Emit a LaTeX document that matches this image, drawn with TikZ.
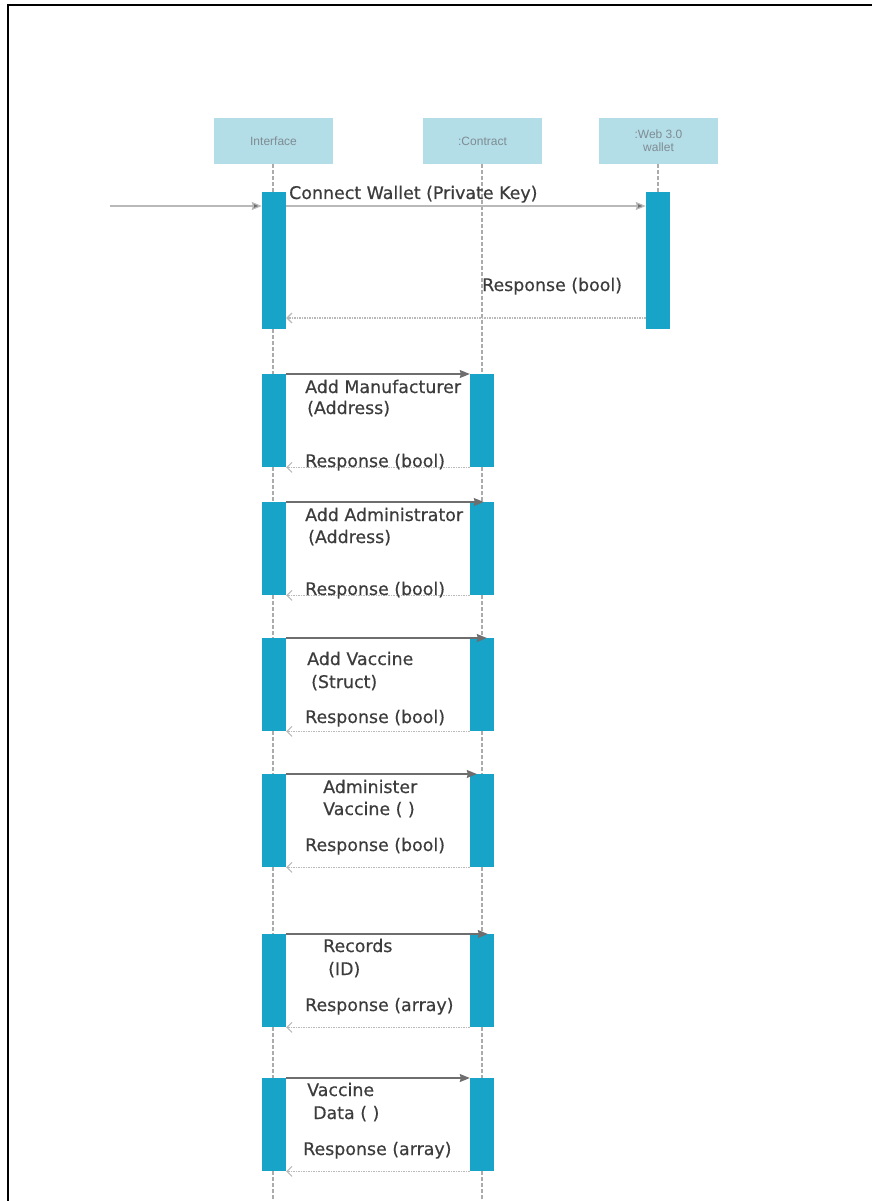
\documentclass[tikz,border=0pt]{standalone}
\usepackage{fontspec}
\setmainfont{DejaVu Sans}
\newfontfamily\lblfont{DejaVu Sans}[FakeBold=0.5]
\newfontfamily\hdrfont{Liberation Sans}
\usetikzlibrary{arrows.meta,calc}
\definecolor{hdrfill}{HTML}{B3DDE7}
\definecolor{barfill}{HTML}{17A4C8}
\definecolor{txt}{HTML}{3C3C3C}
\definecolor{lifegray}{HTML}{ABABAB}
\definecolor{hdrtxt}{HTML}{7F8C92}
\definecolor{callgray}{HTML}{6E6E6E}
\begin{document}
\begin{tikzpicture}[x=1pt,y=-1pt,
  hdr/.style={fill=hdrfill, minimum width=119pt, minimum height=46pt, inner sep=0pt,
    font=\hdrfont\fontsize{12}{13}\selectfont, text=hdrtxt, align=center},
  actbar/.style={fill=barfill, minimum width=24pt, inner sep=0pt, anchor=north},
  life/.style={draw=lifegray, dash pattern=on 4pt off 2pt, line width=2pt},
  call/.style={draw=callgray, line width=1.2pt, -{Stealth[length=10pt,width=8pt,inset=1pt]}},
  ret/.style={draw=gray!55, dash pattern=on 1.5pt off 1pt, line width=1.1pt, -{Straight Barb[length=5pt,width=10pt]}},
  lbl/.style={anchor=base west, inner sep=0pt, text=txt, font=\lblfont\fontsize{17.4}{19}\selectfont}]

\path[use as bounding box] (0,0) rectangle (872,1201);

% page frame
\draw[line width=1.3pt] (8,1201) -- (8,5) -- (872,5);

% participants
\node[hdr] (ifc) at (273.5,141) {Interface};
\node[hdr] (con) at (482.5,141) {:Contract};
\node[hdr] (wal) at (658.5,141) {:Web 3.0\\wallet};

% lifeline ends
\coordinate (ifcEnd) at (273,1201);
\coordinate (conEnd) at (482,1201);

% activation bars
\node[actbar, minimum height=137pt] (ib0) at (274,192) {};
\node[actbar, minimum height=137pt] (wb0) at (658,192) {};
\foreach \k/\t in {1/374,2/502,3/638,4/774,5/934,6/1078}{
  \node[actbar, minimum height=93pt] (ib\k) at (274,\t) {};
  \node[actbar, minimum height=93pt] (cb\k) at (482,\t) {};
}

% lifelines between the bars
\draw[life] (ifc.south -| ifcEnd) -- (ib0.north -| ifcEnd);
\draw[life] (ib0.south -| ifcEnd) -- (ib1.north -| ifcEnd);
\foreach \a/\b in {1/2,2/3,3/4,4/5,5/6}{
  \draw[life] (ib\a.south -| ifcEnd) -- (ib\b.north -| ifcEnd);
  \draw[life] (cb\a.south -| conEnd) -- (cb\b.north -| conEnd);
}
\draw[life] (ib6.south -| ifcEnd) -- (ifcEnd);
\draw[life] (con.south -| conEnd) -- (cb1.north -| conEnd);
\draw[life] (cb6.south -| conEnd) -- (conEnd);
\draw[life] (wal.south -| wb0) -- (wb0.north);

% wallet connection
\coordinate (src) at (110,206);
\coordinate (r0) at (0,318);
\draw[call, draw=gray!55, -{Stealth[length=10pt,width=8pt,inset=1pt,fill=callgray]}] (src) -- (ib0.west |- src);
\draw[call, draw=gray!55, -{Stealth[length=10pt,width=8pt,inset=1pt,fill=callgray]}] (ib0.east |- src) -- (wb0.west |- src);
\draw[ret] (wb0.west |- r0) -- (ib0.east |- r0);
\node[lbl] (m0) at (289,199) {Connect Wallet (Private Key)};
\node[lbl] (m0r) at (482,291) {Response (bool)};

% calls and responses
\draw[call] (ib1.north east) -- (cb1.north west);
\draw[call, shorten >=-14pt] (ib2.north east) -- (cb2.north west);
\draw[call, shorten >=-17pt] (ib3.north east) -- (cb3.north west);
\draw[call, shorten >=-7pt] (ib4.north east) -- (cb4.north west);
\draw[call, shorten >=-18pt] (ib5.north east) -- (cb5.north west);
\draw[call] (ib6.north east) -- (cb6.north west);
\foreach \k in {1,...,6}{
  \draw[ret] (cb\k.south west) -- (ib\k.south east);
}

\node[lbl] (m1a) at (305,393) {Add Manufacturer};
\node[lbl] (m1b) at (307,414) {(Address)};
\node[lbl] (m1r) at (305,467) {Response (bool)};

\node[lbl] (m2a) at (305,521) {Add Administrator};
\node[lbl] (m2b) at (308,543) {(Address)};
\node[lbl] (m2r) at (305,595) {Response (bool)};

\node[lbl] (m3a) at (307,665) {Add Vaccine};
\node[lbl] (m3b) at (311,688) {(Struct)};
\node[lbl] (m3r) at (305,723) {Response (bool)};

\node[lbl] (m4a) at (323,793) {Administer};
\node[lbl] (m4b) at (323,815) {Vaccine ( )};
\node[lbl] (m4r) at (305,851) {Response (bool)};

\node[lbl] (m5a) at (323,952) {Records};
\node[lbl] (m5b) at (328,975) {(ID)};
\node[lbl] (m5r) at (305,1011) {Response (array)};

\node[lbl] (m6a) at (307,1096) {Vaccine};
\node[lbl] (m6b) at (313,1119) {Data ( )};
\node[lbl] (m6r) at (303,1155) {Response (array)};
\end{tikzpicture}
\end{document}
